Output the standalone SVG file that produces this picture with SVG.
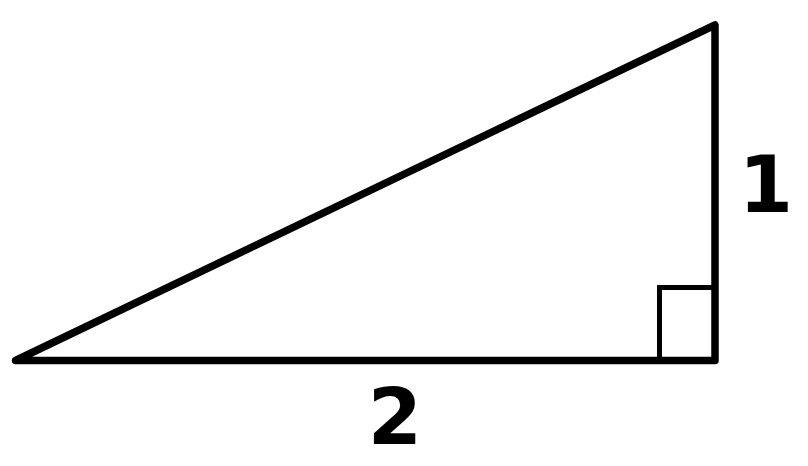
<svg xmlns="http://www.w3.org/2000/svg" width="808" height="466" viewBox="0 0 808 466">
<style>
.edge{fill:none;stroke:#000;stroke-width:7.5;stroke-linejoin:round}
.mark{fill:none;stroke:#000;stroke-width:5}
.lbl{font-family:"DejaVu Sans",Verdana,sans-serif;font-weight:bold;font-size:78px;fill:#000;text-anchor:middle}
</style>
<rect width="808" height="466" fill="#fff"/>
<g id="triangle">
<path class="mark" d="M659.5 360.5 V287.5 H715"/>
<path class="edge" d="M15.5 360.5 L715 25 L715 360.5 Z"/>
</g>
<g id="label-1"><text class="lbl" x="766" y="212">1</text></g>
<g id="label-2"><text class="lbl" x="395" y="444">2</text></g>
</svg>
